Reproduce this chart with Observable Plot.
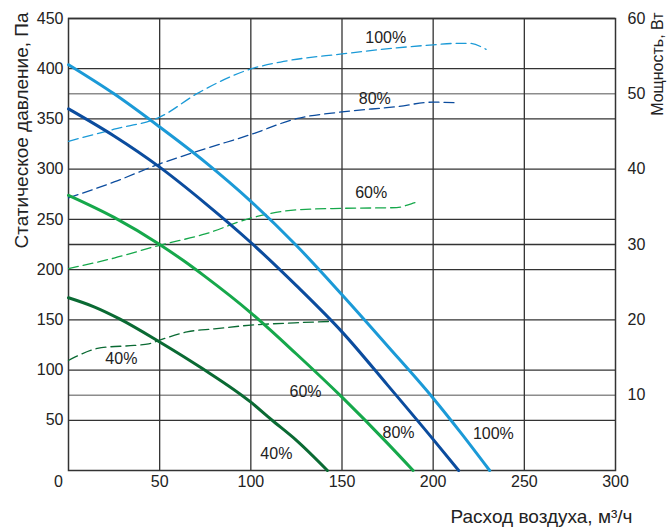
<!DOCTYPE html>
<html>
<head>
<meta charset="utf-8">
<script src="https://cdn.jsdelivr.net/npm/d3@7"></script>
<script src="https://cdn.jsdelivr.net/npm/@observablehq/plot@0.6"></script>
<style>
  html, body { margin: 0; padding: 0; background: #fff; }
  svg { display: block; }
</style>
</head>
<body>
<div id="chart"></div>
<script>
// ---- Data ----
// Static pressure curves (Pa) vs air flow (m3/h)
const p100x = [0, 25, 50, 75, 100, 125, 150, 175, 200, 215, 231];
const p100y = [404, 375, 342, 307, 268, 224, 175, 124, 72, 38, 0];
const p80x  = [0, 25, 50, 75, 100, 125, 150, 175, 200, 214];
const p80y  = [360, 333, 302, 266, 227, 184, 138, 85, 31, 0];
const p60x  = [0, 25, 50, 63, 75, 100, 125, 150, 175, 189];
const p60y  = [274, 252, 225, 209, 193, 157, 116, 73, 27, 0];
const p40x  = [0, 14, 28, 50, 73, 100, 111, 125, 142];
const p40y  = [172, 163, 151, 128, 102, 68, 51, 30, 0];

// Power curves (W) vs air flow (m3/h)
const w100x = [0, 25, 50, 71, 100, 118, 150, 180, 200, 213, 220, 229];
const w100y = [43.7, 45.3, 46.9, 50.1, 53.3, 54.3, 55.3, 56.1, 56.5, 56.7, 56.7, 55.9];
const w80x  = [0, 25, 50, 75, 100, 125, 150, 180, 200, 214];
const w80y  = [36.2, 38.3, 40.7, 42.7, 44.6, 46.7, 47.6, 48.3, 48.9, 48.8];
const w60x  = [0, 25, 50, 75, 100, 125, 150, 180, 188, 192];
const w60y  = [26.8, 28.2, 29.9, 31.4, 33.5, 34.6, 34.8, 34.9, 35.4, 35.7];
const w40x  = [0, 18, 36, 44, 50, 65, 80, 100, 124, 145];
const w40y  = [14.6, 16.3, 16.6, 16.8, 17.3, 18.4, 18.8, 19.3, 19.6, 19.8];

// Axes ticks
const xTicks = [50, 100, 150, 200, 250, 300];
const yTicks = [50, 100, 150, 200, 250, 300, 350, 400, 450];
const wTicks = [10, 20, 30, 40, 50, 60];
const wMax = 60, pMax = 450; // right axis 0..60 W maps to 0..450 Pa

// Curve labels
const labelText = ["100%", "80%", "60%", "40%", "100%", "80%", "60%", "40%"];
const labelX    = [174, 168, 166, 29, 233, 181, 130, 114];
const labelY    = [431, 370, 276, 111, 36, 37, 78, 17];

// Colors
const colors = {100: "#1b9ad7", 80: "#0b4c9e", 60: "#16a84b", 40: "#0a6a33"};

// ---- Build ----
const k = pMax / wMax;
const zip = (xs, ys, f = v => v) => xs.map((x, i) => ({x, y: f(ys[i])}));
const pressure = [
  [100, zip(p100x, p100y)], [80, zip(p80x, p80y)],
  [60, zip(p60x, p60y)], [40, zip(p40x, p40y)]
];
const power = [
  [100, zip(w100x, w100y, v => v * k)], [80, zip(w80x, w80y, v => v * k)],
  [60, zip(w60x, w60y, v => v * k)], [40, zip(w40x, w40y, v => v * k)]
];
const labels = labelText.map((t, i) => ({t, x: labelX[i], y: labelY[i]}));

const chart = Plot.plot({
  width: 667,
  height: 531,
  marginLeft: 68,
  marginRight: 52,
  marginTop: 18,
  marginBottom: 61,
  x: {domain: [0, 300]},
  y: {domain: [0, 450]},
  style: {fontFamily: "'Liberation Sans', Arial, sans-serif", fontSize: "16px", color: "#222", background: "#fff"},
  marks: [
    Plot.gridY([wTicks[0] * k, wTicks[4] * k], {stroke: "#8c8c8c", strokeOpacity: 1, strokeWidth: 1.5}),
    Plot.gridY([...yTicks, wTicks[2] * k], {stroke: "#333", strokeOpacity: 1, strokeWidth: 1.3}),
    Plot.gridX(xTicks.slice(0, 5), {stroke: "#333", strokeOpacity: 1, strokeWidth: 1.3}),
    Plot.frame({stroke: "#333", strokeWidth: 1.5}),
    Plot.axisY(yTicks, {anchor: "left", tickSize: 0, tickPadding: 5, label: null, fontSize: 16}),
    Plot.axisY(wTicks.map(w => w * k), {anchor: "right", tickSize: 0, tickPadding: 12, tickFormat: d => Math.round(d / k), label: null, fontSize: 16}),
    Plot.axisX(xTicks, {anchor: "bottom", tickSize: 0, tickPadding: 5, label: null, fontSize: 16}),
    Plot.axisX([0], {anchor: "bottom", tickSize: 0, tickPadding: 5, dx: -10, label: null, fontSize: 16}),
    ...power.map(([p, d]) => Plot.line(d, {x: "x", y: "y", stroke: colors[p], strokeWidth: 1.3, strokeDasharray: "10,5", curve: "monotone-x"})),
    ...pressure.map(([p, d]) => Plot.line(d, {x: "x", y: "y", stroke: colors[p], strokeWidth: 3, curve: "monotone-x"})),
    Plot.text(labels, {x: "x", y: "y", text: "t", fontSize: 16, fill: "#222"}),
    Plot.text(["Расход воздуха, м³/ч"], {frameAnchor: "bottom-right", text: d => d, textAnchor: "end", dx: 17, dy: 52, fontSize: 19, fill: "#222"}),
    Plot.text(["Статическое давление, Па"], {frameAnchor: "top-left", text: d => d, rotate: -90, textAnchor: "end", dx: -54, dy: -6, fontSize: 19, fill: "#222"}),
    Plot.text(["Мощность, Вт"], {frameAnchor: "top-right", text: d => d, rotate: -90, textAnchor: "end", dx: 36, dy: -6, fontSize: 16, fill: "#222"})
  ]
});
document.getElementById("chart").appendChild(chart);
</script>
</body>
</html>
